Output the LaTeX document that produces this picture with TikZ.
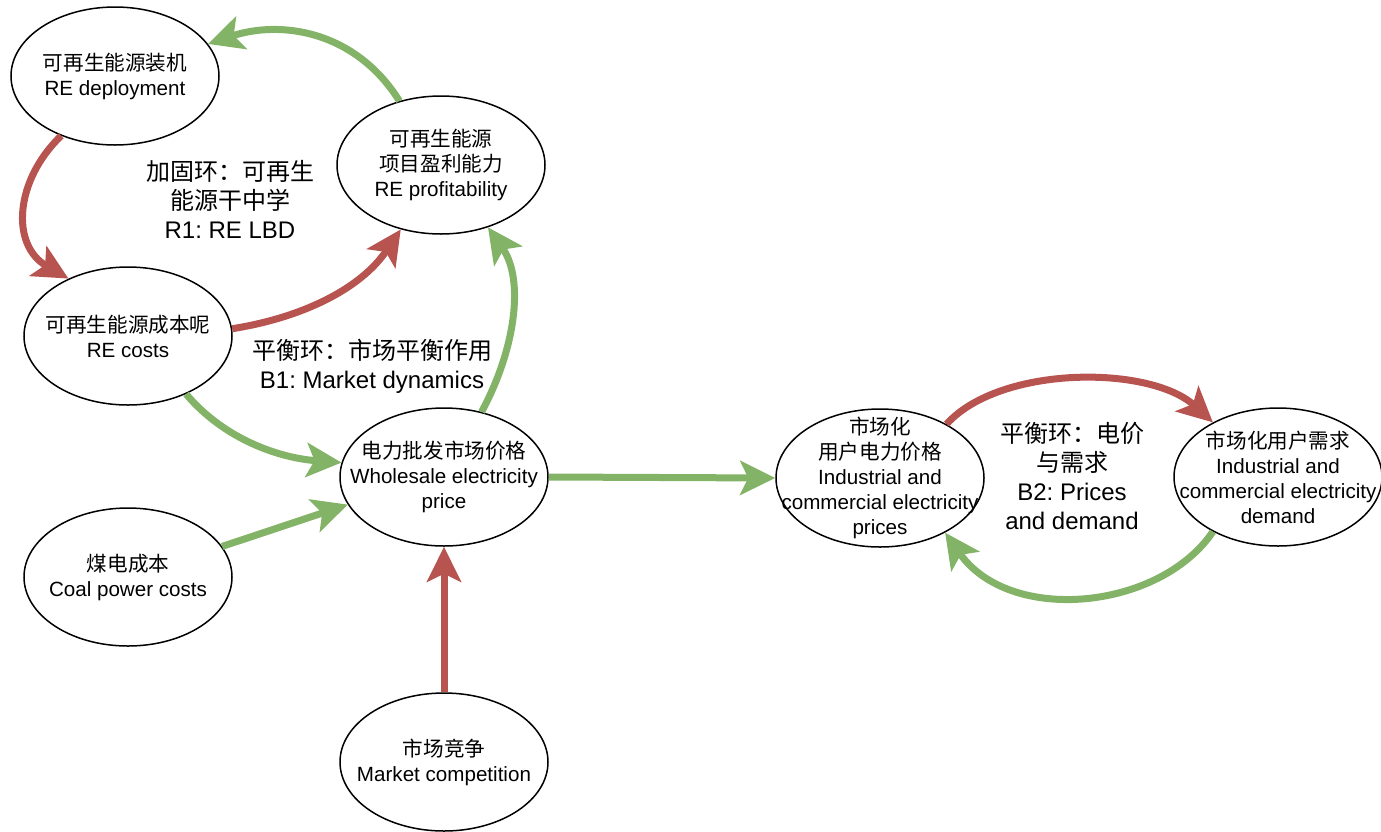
\documentclass[tikz,border=0pt]{standalone}
\usepackage{fontspec}
\setmainfont{Liberation Sans}
\newfontfamily\cjk{Noto Sans CJK SC}
\usetikzlibrary{arrows.meta,shapes.geometric}
\definecolor{gline}{HTML}{82B366}
\definecolor{rline}{HTML}{B85450}
\frenchspacing
\begin{document}
\begin{tikzpicture}[x=1pt,y=-1pt,
  ell/.style={draw,ellipse,line width=1.5pt,minimum width=208pt,minimum height=138pt,inner sep=0pt},
  txt/.style={align=center,font=\fontsize{20.6}{25}\selectfont,inner sep=0pt},
  lbl/.style={align=center,font=\fontsize{24}{29}\selectfont,inner sep=0pt},
  garr/.style={draw=gline,line width=7pt,-{Stealth[length=35pt,width=34pt,inset=8pt]}},
  rarr/.style={draw=rline,line width=7pt,-{Stealth[length=35pt,width=34pt,inset=8pt]}}]
\useasboundingbox (0,0) rectangle (1381,831);

% nodes
\node[ell] (A) at (115,76) {};
\node[txt] (At) at (A) {{\cjk 可再生能源装机}\\RE deployment};
\node[ell] (B) at (441,165) {};
\node[txt] (Bt) at (B) {{\cjk 可再生能源}\\{\cjk 项目盈利能力}\\RE profitability};
\node[ell] (C) at (128,336) {};
\node[txt] (Ct) at (C) {{\cjk 可再生能源成本呢}\\RE costs};
\node[ell] (D) at (444,477) {};
\node[txt] (Dt) at (D) {{\cjk 电力批发市场价格}\\Wholesale electricity\\price};
\node[ell] (E) at (128,577) {};
\node[txt] (Et) at (E) {{\cjk 煤电成本}\\Coal power costs};
\node[ell] (F) at (444,762) {};
\node[txt] (Ft) at (F) {{\cjk 市场竞争}\\Market competition};
\node[ell] (G) at (880,478) {};
\node[txt] (Gt) at (G) {{\cjk 市场化}\\{\cjk 用户电力价格}\\Industrial and\\commercial electricity\\prices};
\node[ell] (H) at (1278,477) {};
\node[txt] (Ht) at (H) {{\cjk 市场化用户需求}\\Industrial and\\commercial electricity\\demand};

% loop labels
\node[lbl] (R1) at (230,199) {{\cjk 加固环：可再生}\\{\cjk 能源干中学}\\R1: RE LBD};
\node[lbl] (B1) at (372,366) {{\cjk 平衡环：市场平衡作用}\\B1: Market dynamics};
\node[lbl] (B2) at (1072,476) {{\cjk 平衡环：电价}\\{\cjk 与需求}\\B2: Prices\\and demand};

% connectors
\draw[garr] (B.123.5) .. controls (355,30) and (280,20) .. (A.19.5);
\draw[rarr] (A.228) .. controls (15,180) and (10,245) .. (C.136);
\draw[rarr] (C.4) .. controls (300,318) and (360,290) .. (B.238);
\draw[garr] (D.60) .. controls (515,350) and (525,280) .. (B.307);
\draw[garr] (C.315) .. controls (225,440) and (280,458) .. (D.172);
\draw[garr] (E.18.4) -- (D.196);
\draw[rarr] (F.north) -- (D.south);
\draw[garr] (D.east) -- (G.west);
\draw[rarr] (G.39) .. controls (1000,365) and (1150,365) .. (H.140);
\draw[garr] (H.220.5) .. controls (1160,610) and (1010,625) .. (G.320);
\end{tikzpicture}
\end{document}
